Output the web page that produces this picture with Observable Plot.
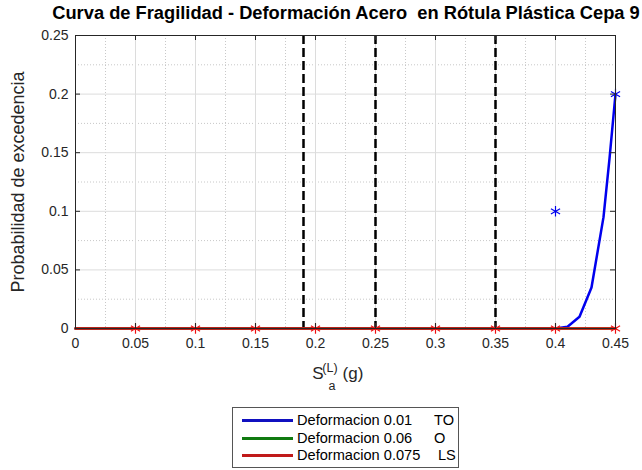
<!DOCTYPE html>
<html>
<head>
<meta charset="utf-8">
<script src="https://cdn.jsdelivr.net/npm/d3@7"></script>
<script src="https://cdn.jsdelivr.net/npm/@observablehq/plot@0.6"></script>
<style>
  html, body { margin: 0; padding: 0; background: #fff; }
  #wrap { position: relative; width: 642px; height: 470px; overflow: hidden; font-family: "Liberation Sans", Arial, Helvetica, sans-serif; }
  #title { position: absolute; left: 0; top: 2px; width: 642px; text-align: center; padding-left: 50px; box-sizing: border-box; font-weight: bold; font-size: 18.3px; color: #000; white-space: pre; }
  #chart { position: absolute; left: 0; top: 0; }
  #legend { position: absolute; left: 232px; top: 407px; width: 227px; height: 61px; border: 1px solid #555; background: #fff; box-sizing: border-box; font-size: 14.6px; color: #000; }
  .row { position: absolute; left: 0; height: 17px; width: 100%; }
  .row .ln { position: absolute; left: 9px; width: 51px; top: 7px; height: 3px; }
  .row .t1 { position: absolute; left: 64px; top: 0; line-height: 17px; }
  .row .t2 { position: absolute; top: 0; line-height: 17px; }
</style>
</head>
<body>
<div id="wrap">
  <div id="chart"></div>
  <div id="title"></div>
  <div id="legend"></div>
</div>
<script>
// ---- data ----
const titleText = "Curva de Fragilidad - Deformación Acero  en Rótula Plástica Cepa 9";
const yLabel = "Probabilidad de excedencia";
const xTicks = [0, 0.05, 0.1, 0.15, 0.2, 0.25, 0.3, 0.35, 0.4, 0.45];
const xMinor = [0.025, 0.075, 0.125, 0.175, 0.225, 0.275, 0.325, 0.375, 0.425];
const yTicks = [0, 0.05, 0.1, 0.15, 0.2, 0.25];
const yMinor = [0.025, 0.075, 0.125, 0.175, 0.225];
const thresholds = [0.19, 0.25, 0.35];

// fitted curve TO (blue)
const curveTO_x = [0, 0.40, 0.41, 0.42, 0.43, 0.44, 0.445, 0.45];
const curveTO_y = [0, 0, 0.0015, 0.01, 0.035, 0.095, 0.145, 0.2];
// curves O (green) and LS (red)
const curveO_x = [0, 0.45];
const curveO_y = [0, 0];
const curveLS_x = [0, 0.45];
const curveLS_y = [0, 0];
// observed points
const obsTO_x = [0.4, 0.45];
const obsTO_y = [0.1, 0.2];
const obsLS_x = [0.05, 0.1, 0.15, 0.2, 0.25, 0.3, 0.35, 0.4, 0.45];
const obsLS_y = [0, 0, 0, 0, 0, 0, 0, 0, 0];

const legendLabels = ["Deformacion 0.01", "Deformacion 0.06", "Deformacion 0.075"];
const legendSuffix = ["TO", "O", "LS"];
const colors = ["#0000ee", "#007a00", "#f01010"];
const legendColors = ["#1010c0", "#107a10", "#c01a1a"];

// ---- build ----
const zip = (xs, ys) => xs.map((x, i) => ({x, y: ys[i]}));
const cTO = zip(curveTO_x, curveTO_y);
const cO = zip(curveO_x, curveO_y);
const cLS = zip(curveLS_x, curveLS_y);
const pTO = zip(obsTO_x, obsTO_y);
const pLS = zip(obsLS_x, obsLS_y);

const axisColor = "#262626";
const W = 642, H = 400;
const mL = 75, mR = 27, mT = 35, mB = 72;
const tickLenY = 5 * 0.25 / (H - mT - mB);
const tickLenX = 5 * 0.45 / (W - mL - mR);

const plot = Plot.plot({
  width: W, height: H,
  marginLeft: mL, marginRight: mR, marginTop: mT, marginBottom: mB,
  style: { fontFamily: '"Liberation Sans", Arial, Helvetica, sans-serif', fontSize: "14px", color: axisColor, background: "transparent", overflow: "visible" },
  x: { domain: [0, 0.45] },
  y: { domain: [0, 0.25] },
  marks: [
    // minor grid (dotted)
    Plot.ruleX(xMinor, { stroke: "#c8c8c8", strokeDasharray: "1,2", strokeWidth: 1 }),
    Plot.ruleY(yMinor, { stroke: "#c8c8c8", strokeDasharray: "1,2", strokeWidth: 1 }),
    // major grid
    Plot.ruleX(xTicks, { stroke: "#dcdcdc", strokeWidth: 1 }),
    Plot.ruleY(yTicks, { stroke: "#dcdcdc", strokeWidth: 1 }),
    // threshold dashed lines
    Plot.ruleX(thresholds, { stroke: "#000", strokeWidth: 2.5, strokeDasharray: "9,4" }),
    // curves
    Plot.line(cTO, { x: "x", y: "y", stroke: colors[0], strokeWidth: 2.5 }),
    Plot.dot(pTO, { x: "x", y: "y", symbol: "asterisk", stroke: colors[0], r: 5, strokeWidth: 1.2 }),
    Plot.line(cO, { x: "x", y: "y", stroke: colors[1], strokeWidth: 2.5 }),
    Plot.line(cLS, { x: "x", y: "y", stroke: colors[2], strokeWidth: 2.5 }),
    Plot.dot(pLS, { x: "x", y: "y", symbol: "asterisk", stroke: colors[2], r: 5, strokeWidth: 1.2 }),
    // frame (box)
    Plot.frame({ stroke: axisColor, strokeWidth: 1 }),
    // inward ticks
    Plot.ruleX(xTicks, { y1: 0, y2: tickLenY, stroke: axisColor }),
    Plot.ruleX(xTicks, { y1: 0.25, y2: 0.25 - tickLenY, stroke: axisColor }),
    Plot.ruleY(yTicks, { x1: 0, x2: tickLenX, stroke: axisColor }),
    Plot.ruleY(yTicks, { x1: 0.45, x2: 0.45 - tickLenX, stroke: axisColor }),
    // axes tick labels
    Plot.axisX(xTicks, { tickSize: 0, tickPadding: 10, tickFormat: d => String(d), label: null, fontSize: 14 }),
    Plot.axisY(yTicks, { tickSize: 0, tickPadding: 7, tickFormat: d => String(d), label: null, fontSize: 14 }),
    // y axis title
    Plot.text([yLabel], { text: d => d, frameAnchor: "left", textAnchor: "middle", dx: -57, rotate: -90, fontSize: 18, fill: axisColor })
  ]
});

document.getElementById("chart").appendChild(plot);

// x-axis label with superscript/subscript
const xs = plot.scale("x"), ys = plot.scale("y");
const cx = xs.apply(0.225);
const baseY = ys.apply(0) + 51;
const svg = d3.select(plot);
const xl = svg.append("text")
  .attr("x", cx - 27).attr("y", baseY)
  .attr("font-family", '"Liberation Sans", Arial, Helvetica, sans-serif')
  .attr("font-size", 17).attr("fill", axisColor);
xl.append("tspan").text("S");
const supX = cx - 27 + 12;
xl.append("tspan").attr("x", supX).attr("dy", -7).attr("font-size", 12.5).text("(L)");
xl.append("tspan").attr("x", supX + 2).attr("dy", 18).attr("font-size", 12.5).text("a");
xl.append("tspan").attr("x", cx + 8).attr("dy", -11).text("(g)");

// title
document.getElementById("title").textContent = titleText;

// legend
const leg = document.getElementById("legend");
const suffixX = [201, 201, 205];
legendLabels.forEach((lab, i) => {
  const row = document.createElement("div");
  row.className = "row";
  row.style.top = (4 + i * 17.5) + "px";
  const ln = document.createElement("div");
  ln.className = "ln"; ln.style.background = legendColors[i];
  const t1 = document.createElement("span");
  t1.className = "t1"; t1.textContent = lab;
  const t2 = document.createElement("span");
  t2.className = "t2"; t2.style.left = suffixX[i] + "px"; t2.textContent = legendSuffix[i];
  row.appendChild(ln); row.appendChild(t1); row.appendChild(t2);
  leg.appendChild(row);
});
</script>
</body>
</html>
